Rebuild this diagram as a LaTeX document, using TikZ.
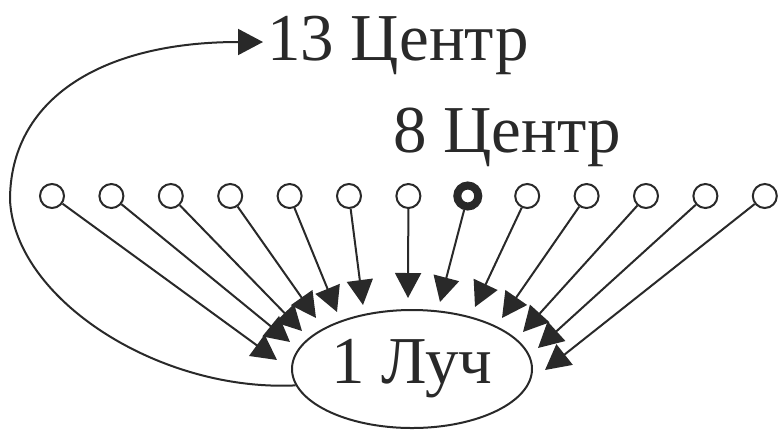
\documentclass[tikz,border=0pt]{standalone}
\usepackage{fontspec}
\setmainfont{Liberation Serif}
\newfontfamily\labelfont{Liberation Serif}
\usetikzlibrary{arrows.meta,shapes.geometric}
\definecolor{ink}{gray}{0.16}
\begin{document}
\begin{tikzpicture}[x=1pt,y=-1pt,
  ink/.style={draw=ink,line width=2pt},
  dot/.style={circle,ink,fill=white,minimum size=24pt,inner sep=0pt},
  bolddot/.style={circle,draw=ink,line width=8pt,fill=white,minimum size=21pt,inner sep=0pt},
  lbl/.style={font=\labelfont\fontsize{67}{80}\selectfont,text=ink,inner sep=0pt},
  ray/.style={ink,-{Triangle[length=25pt,width=26pt]}},
]
\useasboundingbox (0,0) rectangle (778,432);
% circles
\foreach \i in {1,...,7,9,10,11,12,13}{
  \node[dot] (c\i) at ({52+(\i-1)*59.4},196) {};
}
\node[bolddot] (c8) at ({52+7*59.4},196) {};
% ellipse
\node[ellipse,ink,minimum width=240pt,minimum height=118pt,inner sep=0pt,
      font=\labelfont\fontsize{67}{80}\selectfont,text=ink] (l) at (412,369) {1 Луч};
% labels
\node[lbl,anchor=base west] (t13) at (267,60) {13 Центр};
\node[lbl,anchor=base west] (t8) at (393,152) {8 Центр};
% arrow tips
\coordinate (p1) at (277,360);
\coordinate (p2) at (290,342);
\coordinate (p3) at (302,331);
\coordinate (p4) at (316,318);
\coordinate (p5) at (337,312);
\coordinate (p6) at (363,305);
\coordinate (p7) at (408,298);
\coordinate (p8) at (440,302);
\coordinate (p9) at (475,307);
\coordinate (p10) at (502,318);
\coordinate (p11) at (523,332);
\coordinate (p12) at (538,348);
\coordinate (p13) at (545,370);
\foreach \i in {1,...,13}{
  \draw[ray] (c\i) -- (p\i);
}
% return arrow
\coordinate (r1) at (10,200);
\draw[ink,-{Triangle[length=25pt,width=26pt]}] (l.188) .. controls (160,392) and (15,300) .. (r1)
  .. controls (10,100) and (100,42) .. ([xshift=-4pt]t13.west |- 0,42);
\end{tikzpicture}
\end{document}
